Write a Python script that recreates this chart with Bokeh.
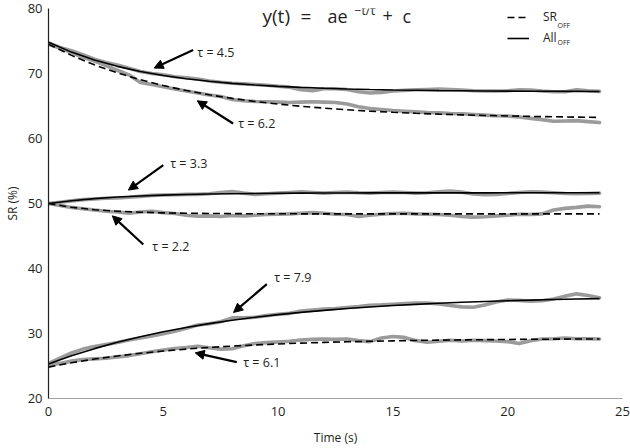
from bokeh.plotting import figure
from bokeh.models import Range1d, FixedTicker, Label, Arrow, NormalHead, Legend, LegendItem
from bokeh.embed import file_html
from bokeh.resources import INLINE

# ---------------- data ----------------
t_data = [0, 0.5, 1, 1.5, 2, 2.5, 3, 3.5, 4, 4.5, 5, 5.5, 6, 6.5, 7, 7.5, 8, 8.5, 9, 9.5,
          10, 10.5, 11, 11.5, 12, 12.5, 13, 13.5, 14, 14.5, 15, 15.5, 16, 16.5, 17, 17.5,
          18, 18.5, 19, 19.5, 20, 20.5, 21, 21.5, 22, 22.5, 23, 23.5, 24]

top_all_data = [74.7, 74.0, 73.5, 72.9, 72.2, 71.7, 71.3, 70.8, 70.3, 70.0, 69.8, 69.5, 69.35,
                69.15, 68.85, 68.65, 68.5, 68.4, 68.3, 68.2, 68.05, 67.9, 67.5, 67.35, 67.65,
                67.65, 67.55, 67.2, 67.0, 67.1, 67.3, 67.4, 67.5, 67.55, 67.6, 67.55, 67.45,
                67.35, 67.3, 67.3, 67.35, 67.5, 67.45, 67.3, 67.2, 67.2, 67.5, 67.35, 67.25]
top_sr_data = [74.5, 73.9, 73.2, 72.5, 71.9, 71.2, 70.5, 69.8, 68.6, 68.3, 67.95, 67.6, 67.3,
               67.0, 66.7, 66.45, 66.0, 65.8, 65.7, 65.65, 65.6, 65.55, 65.6, 65.65, 65.6,
               65.55, 65.3, 64.9, 64.6, 64.45, 64.3, 64.2, 64.1, 64.0, 63.95, 63.85, 63.8,
               63.7, 63.6, 63.5, 63.45, 63.3, 63.1, 62.9, 62.65, 62.7, 62.75, 62.6, 62.45]
mid_all_data = [50.0, 50.2, 50.4, 50.6, 50.7, 50.8, 50.85, 50.95, 51.1, 51.25, 51.3, 51.35,
                51.4, 51.4, 51.5, 51.7, 51.85, 51.6, 51.4, 51.5, 51.6, 51.7, 51.8, 51.7,
                51.6, 51.7, 51.75, 51.65, 51.6, 51.7, 51.75, 51.7, 51.6, 51.65, 51.8, 51.9,
                51.75, 51.45, 51.35, 51.4, 51.55, 51.7, 51.8, 51.75, 51.65, 51.55, 51.5,
                51.55, 51.6]
mid_sr_data = [50.0, 49.7, 49.4, 49.2, 49.0, 48.8, 48.7, 48.5, 48.7, 48.8, 48.6, 48.45, 48.2,
               48.05, 48.1, 48.0, 48.15, 48.1, 48.2, 48.3, 48.35, 48.4, 48.5, 48.6, 48.5,
               48.35, 48.3, 48.0, 48.2, 48.35, 48.45, 48.5, 48.4, 48.35, 48.3, 48.2, 48.0,
               47.9, 47.95, 48.1, 48.2, 48.35, 48.3, 48.4, 49.0, 49.25, 49.4, 49.6, 49.5]
bot_all_data = [25.4, 26.2, 27.0, 27.6, 28.0, 28.3, 28.6, 29.0, 29.3, 29.6, 29.95, 30.35, 30.8,
                31.3, 31.5, 31.8, 32.4, 32.4, 32.5, 32.75, 32.95, 33.1, 33.45, 33.6, 33.75,
                33.85, 34.0, 34.15, 34.35, 34.4, 34.5, 34.6, 34.7, 34.7, 34.55, 34.3, 34.1,
                34.05, 34.4, 34.85, 35.15, 35.1, 34.95, 35.05, 35.3, 35.75, 36.1, 35.85, 35.5]
bot_sr_data = [25.2, 25.4, 25.75, 26.0, 26.1, 26.2, 26.4, 26.6, 26.9, 27.2, 27.45, 27.7, 27.85,
               28.05, 27.8, 27.6, 27.65, 28.1, 28.45, 28.6, 28.7, 28.8, 29.0, 29.1, 29.15,
               29.1, 29.15, 28.9, 28.75, 29.3, 29.55, 29.4, 28.9, 28.65, 28.8, 28.95, 28.85,
               28.95, 28.9, 28.85, 28.75, 28.45, 28.9, 29.15, 29.2, 29.3, 29.2, 29.2, 29.15]

t_fit = [0, 1, 2, 3, 4, 5, 6, 7, 8, 9, 10, 11, 12, 13, 14, 15, 16, 17, 18, 19, 20, 21, 22, 23, 24]
top_all_fit = [74.80, 73.29, 72.07, 71.10, 70.32, 69.70, 69.20, 68.80, 68.48, 68.23, 68.02, 67.86,
               67.73, 67.62, 67.54, 67.47, 67.42, 67.37, 67.34, 67.31, 67.29, 67.27, 67.26,
               67.25, 67.24]
top_sr_fit = [74.50, 72.79, 71.33, 70.09, 69.04, 68.14, 67.38, 66.72, 66.17, 65.70, 65.30, 64.96,
              64.67, 64.42, 64.21, 64.03, 63.88, 63.75, 63.64, 63.55, 63.47, 63.40, 63.34,
              63.29, 63.25]
mid_all_fit = [50.00, 50.43, 50.75, 50.99, 51.16, 51.29, 51.38, 51.45, 51.50, 51.54, 51.57, 51.59,
               51.61, 51.62, 51.63, 51.63, 51.64, 51.64, 51.64, 51.64, 51.65, 51.65, 51.65,
               51.65, 51.65]
mid_sr_fit = [50.00, 49.42, 49.04, 48.81, 48.66, 48.56, 48.50, 48.47, 48.44, 48.43, 48.42, 48.41,
              48.41, 48.40, 48.40, 48.40, 48.40, 48.40, 48.40, 48.40, 48.40, 48.40, 48.40,
              48.40, 48.40]
bot_all_fit = [25.30, 26.56, 27.67, 28.66, 29.50, 30.26, 30.93, 31.52, 32.04, 32.49, 32.90, 33.25,
               33.56, 33.84, 34.08, 34.30, 34.48, 34.65, 34.80, 34.93, 35.04, 35.14, 35.23,
               35.30, 35.37]
bot_sr_fit = [24.83, 25.50, 26.07, 26.55, 26.96, 27.30, 27.60, 27.85, 28.06, 28.24, 28.39, 28.52,
              28.63, 28.73, 28.80, 28.87, 28.93, 28.98, 29.02, 29.05, 29.08, 29.11, 29.13,
              29.15, 29.16]

x_ticks = [0, 5, 10, 15, 20, 25]
y_ticks = [20, 30, 40, 50, 60, 70, 80]

tau_labels = ["τ = 4.5", "τ = 6.2", "τ = 3.3", "τ = 2.2", "τ = 7.9", "τ = 6.1"]
tau_label_x = [6.48, 8.26, 5.30, 4.52, 9.83, 8.48]
tau_label_y = [73.3, 62.3, 56.1, 43.4, 38.6, 25.6]
arrow_x_start = [6.30, 8.04, 5.00, 4.13, 9.51, 8.20]
arrow_y_start = [73.6, 62.3, 55.9, 43.7, 37.6, 25.6]
arrow_x_end = [4.60, 6.48, 3.48, 2.78, 8.06, 6.39]
arrow_y_end = [70.84, 65.8, 52.06, 48.1, 33.24, 27.02]

legend_names = ["SR", "All"]
legend_sub = "OFF"

# ---------------- figure ----------------
FONT = "Open Sans"
TXT = "#231f20"
GRAY = "#9b9b9b"

p = figure(width=630, height=448, output_backend="svg", toolbar_location=None,
           x_range=Range1d(0, 25), y_range=Range1d(20, 80),
           min_border_left=48, min_border_right=8, min_border_top=8, min_border_bottom=48)
p.outline_line_color = None
p.grid.visible = False
p.background_fill_color = "white"
p.border_fill_color = "white"

for ax in (p.xaxis[0], p.yaxis[0]):
    ax.major_tick_line_color = None
    ax.minor_tick_line_color = None
    ax.major_tick_out = 0
    ax.major_tick_in = 0
    ax.minor_tick_out = 0
    ax.major_label_text_font = FONT
    ax.major_label_text_font_size = "13px"
    ax.major_label_text_color = TXT
    ax.axis_label_text_font = FONT
    ax.axis_label_text_font_size = "12px"
    ax.axis_label_text_font_style = "normal"
    ax.axis_label_text_color = TXT

p.xaxis.ticker = FixedTicker(ticks=x_ticks)
p.yaxis.ticker = FixedTicker(ticks=y_ticks)
p.xaxis.axis_line_color = "#a3a3a3"
p.xaxis.axis_line_width = 1.2
p.yaxis.axis_line_color = TXT
p.yaxis.axis_line_width = 1.2
p.xaxis.axis_label = "Time (s)"
p.yaxis.axis_label = "SR (%)"
p.xaxis.major_label_standoff = 8
p.xaxis.axis_label_standoff = 10
p.yaxis.major_label_standoff = 6
p.yaxis.axis_label_standoff = 4

# gray data traces
for ys in (top_all_data, top_sr_data, mid_all_data, mid_sr_data, bot_all_data, bot_sr_data):
    p.line(t_data, ys, line_color=GRAY, line_width=3.6, line_join="round", line_cap="round")

# fitted curves
r_sr = None
r_all = None
for ys, dashed in ((top_all_fit, False), (top_sr_fit, True), (mid_all_fit, False),
                   (mid_sr_fit, True), (bot_all_fit, False), (bot_sr_fit, True)):
    if dashed:
        r = p.line(t_fit, ys, line_color="black", line_width=1.6, line_dash="7 4")
        r_sr = r_sr or r
    else:
        r = p.line(t_fit, ys, line_color="black", line_width=1.6)
        r_all = r_all or r

# arrows and tau labels
for i in range(len(tau_labels)):
    p.add_layout(Arrow(x_start=arrow_x_start[i], y_start=arrow_y_start[i],
                       x_end=arrow_x_end[i], y_end=arrow_y_end[i],
                       line_color="black", line_width=2.2,
                       end=NormalHead(size=9, fill_color="black", line_color="black",
                                      line_width=1)))
    p.add_layout(Label(x=tau_label_x[i], y=tau_label_y[i], text=tau_labels[i],
                       text_font=FONT, text_font_size="12.5px", text_color=TXT,
                       text_baseline="middle", text_align="left"))

# title  y(t) = a e^{-t/tau} + c
title_parts = [(9.32, 78.85, "y(t)", "19px"), (10.98, 78.85, "=", "19px"),
               (12.15, 78.85, "ae", "18px"),
               (13.33, 79.7, "\u2212t/\u03c4", "12px"), (14.55, 78.85, "+", "18px"),
               (15.42, 78.85, "c", "18px")]
for x, y, txt, fs in title_parts:
    p.add_layout(Label(x=x, y=y, text=txt, text_font=FONT, text_font_size=fs,
                       text_color=TXT, text_baseline="alphabetic", text_align="left"))

# legend
legend = Legend(items=[LegendItem(label=legend_names[0], renderers=[r_sr]),
                       LegendItem(label=legend_names[1], renderers=[r_all])],
                location=(459, 352), glyph_width=22, glyph_height=14, label_height=14,
                label_standoff=14, padding=0, margin=0, spacing=4,
                border_line_alpha=0, background_fill_alpha=0,
                label_text_font=FONT, label_text_font_size="12px", label_text_color=TXT)
p.add_layout(legend)
for yy in (373, 356):
    p.add_layout(Label(x=509, y=yy, x_units="screen", y_units="screen", text=legend_sub,
                       text_font=FONT, text_font_size="7px", text_color=TXT,
                       text_baseline="middle", text_align="left"))

open("out.html", "w").write(file_html(p, INLINE))
